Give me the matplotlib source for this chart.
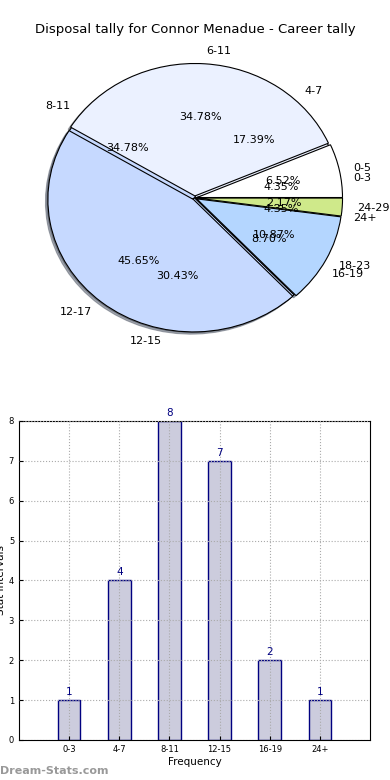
import matplotlib
matplotlib.use('Agg')
import matplotlib.pyplot as plt
import numpy as np

# data
pie1_labels = ['0-5', '6-11', '12-17', '18-23', '24-29']
pie1_values = [3, 16, 21, 5, 1]
pie2_labels = ['0-3', '4-7', '8-11', '12-15', '16-19', '24+']
pie2_values = [1, 4, 8, 7, 2, 1]
bar_labels = ['0-3', '4-7', '8-11', '12-15', '16-19', '24+']
bar_values = [1, 4, 8, 7, 2, 1]

pie1_colors = ['#ffffff', '#ebf1ff', '#c6d9ff', '#b4d6ff', '#cfe98a']
pie2_colors = ['#ffffff', '#ebf1ff', '#c6d9ff', '#c6d9ff', '#b4d6ff', '#cfe98a']

fig = plt.figure(figsize=(3.9, 7.8), dpi=100)

# pie chart
ax1 = fig.add_axes([0.033, 0.534, 0.933, 0.4245])
shadow = {'ox': -0.012, 'oy': -0.012, 'shade': 0.6}
ax1.pie(pie2_values, labels=pie2_labels, colors=pie2_colors, autopct='%.2f%%',
        shadow=shadow, explode=[0.0] * 6,
        wedgeprops={'edgecolor': 'black', 'linewidth': 0.8},
        textprops={'fontsize': 8})
ax1.pie(pie1_values, labels=pie1_labels, colors=pie1_colors, autopct='%.2f%%',
        shadow=shadow, explode=[0.015] * 5,
        wedgeprops={'edgecolor': 'black', 'linewidth': 0.8},
        textprops={'fontsize': 8})
ax1.set_aspect('auto')
ax1.set_xlim(-1.25, 1.25)
ax1.set_ylim(-1.25, 1.25)
ax1.axis('off')
fig.text(0.5, 1 - 30 / 780, 'Disposal tally for Connor Menadue - Career tally',
         ha='center', va='center', fontsize=9.5)

# bar chart
ax2 = fig.add_axes([0.0487, 0.0513, 0.9, 0.409])
x = np.arange(len(bar_values))
bars = ax2.bar(x, bar_values, width=0.45, color='#ccccdd', edgecolor='#000080', linewidth=1)
for xi, v in zip(x, bar_values):
    ax2.text(xi, v + 0.08, str(v), ha='center', va='bottom', color='#000080', fontsize=7.5)
ax2.set_xlim(-1, 6)
ax2.set_ylim(0, 8)
ax2.set_xticks(x)
ax2.set_xticklabels(bar_labels, fontsize=6)
ax2.set_yticks(range(9))
ax2.tick_params(axis='y', labelsize=6)
ax2.tick_params(direction='in', length=3)
ax2.grid(True, linestyle=':', color='#aaaaaa', linewidth=0.8)
ax2.set_axisbelow(False)
ax2.set_xlabel('Frequency', fontsize=7.5, labelpad=2)
ax2.set_ylabel('Stat Intervals', fontsize=7.5, labelpad=2)

fig.text(0.0, 1 - 771 / 780, 'Dream-Stats.com', ha='left', va='center',
         fontsize=8, color='#999999', fontweight='bold')

fig.savefig('out.png', dpi=100)
